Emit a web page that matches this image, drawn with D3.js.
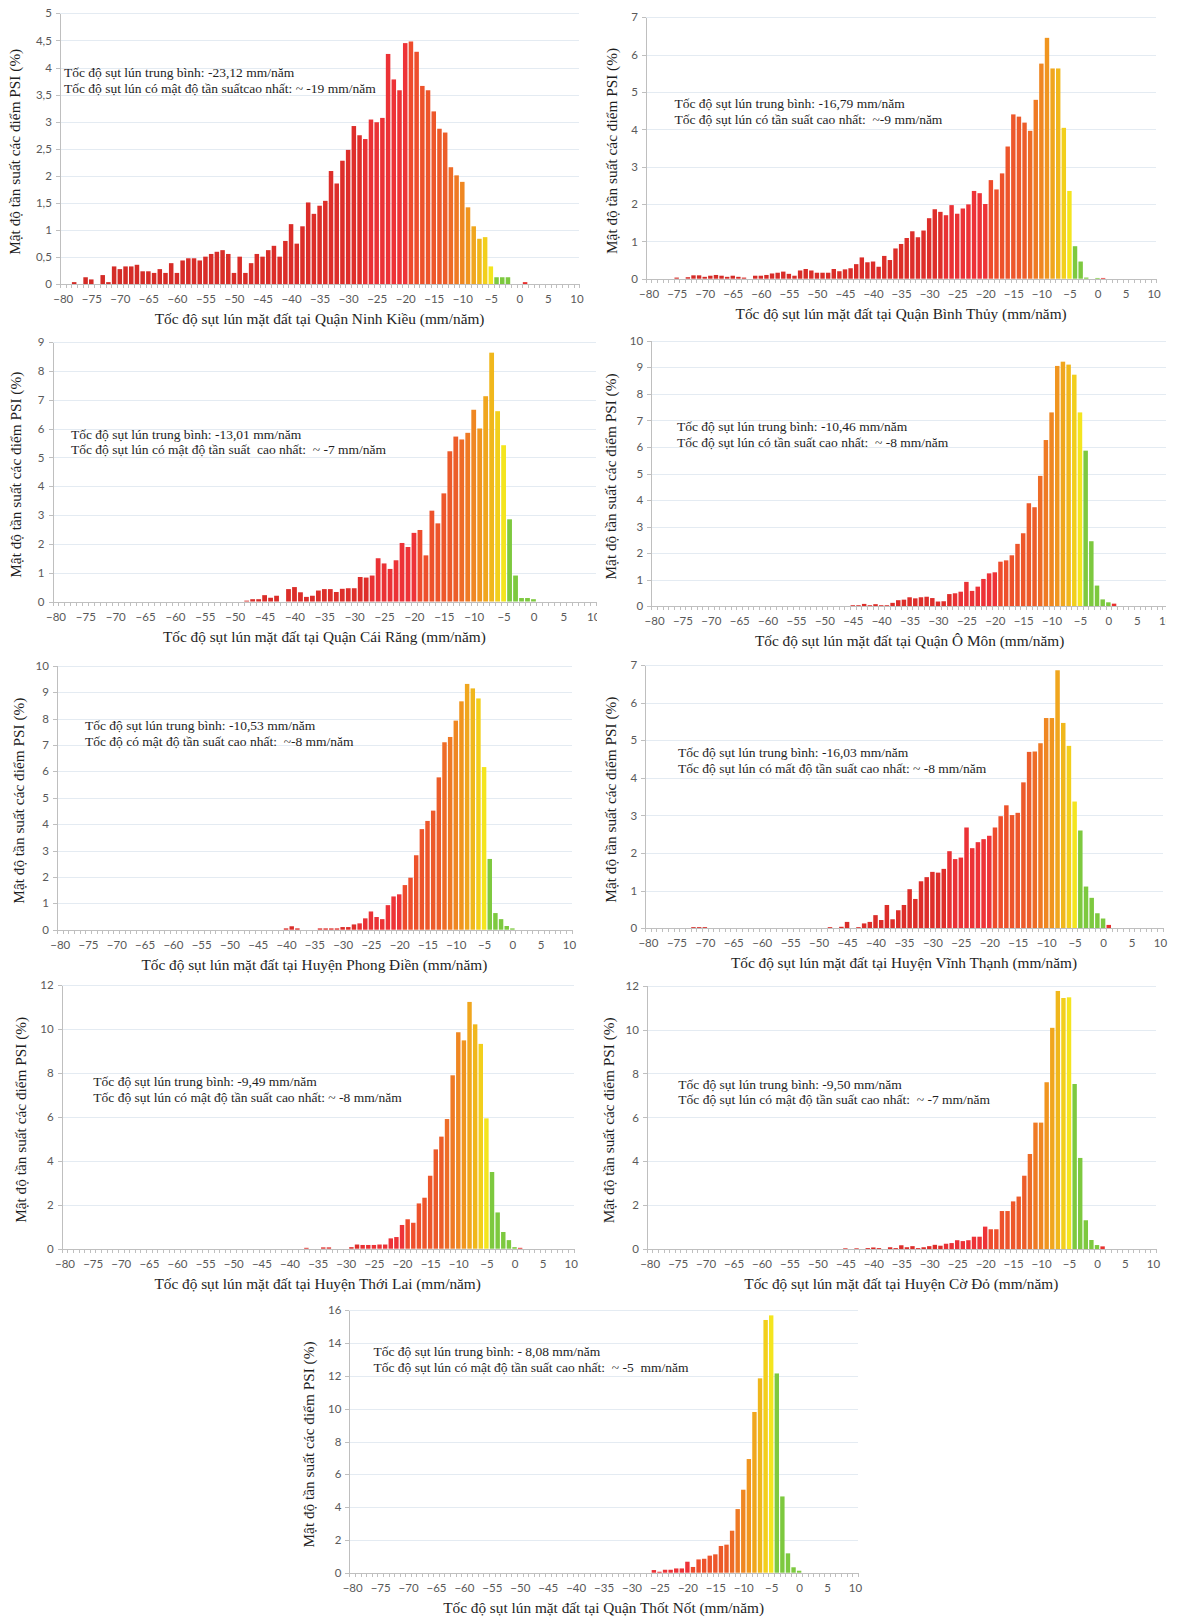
<!DOCTYPE html>
<html lang="vi">
<meta charset="UTF-8">
<style>
    body { margin:0; background:#fff; }
    .axis text { font-family: Lato, "Open Sans", sans-serif; font-size: 11.5px; fill:#595959; }
    .axis path, .axis line { stroke:#bfbfbf; shape-rendering: crispEdges; }
    .grid line { stroke:#e4ebf2; shape-rendering: crispEdges; }
    text.serif { font-family: "Liberation Serif", "Times New Roman", serif; fill:#1e1e1e; white-space: pre; }
</style>
<body>
<div id="chart"></div>
<script src="https://cdn.jsdelivr.net/npm/d3@7"></script>
<script>
    // categories: 1 mm/năm bins from -80 to 10
    var bins = d3.range(-80, 11);
    var xLabels = d3.range(-80, 11, 5);

    // series values (% of PSI points), each list starts at the given bin
    var ninhKieuFrom = -78;
    var ninhKieu = [0.04, 0, 0.13, 0.09, 0, 0.17, 0.04, 0.33, 0.28, 0.33, 0.33, 0.36, 0.24, 0.24, 0.21, 0.28, 0.21, 0.39, 0.21,
        0.44, 0.48, 0.48, 0.44, 0.51, 0.56, 0.60, 0.63, 0.56, 0.21, 0.51, 0.21, 0.39, 0.56, 0.51, 0.63, 0.71, 0.51, 0.80,
        1.11, 0.75, 1.07, 1.51, 1.30, 1.45, 1.54, 2.09, 1.86, 2.28, 2.48, 2.92, 2.75, 2.68, 3.04, 2.99, 3.07, 4.25, 3.78, 3.58,
        4.45, 4.48, 4.29, 3.66, 3.58, 3.19, 2.87, 2.80, 2.16, 2.01, 1.89, 1.42, 1.07, 0.84, 0.87, 0.33, 0.13, 0.13, 0.13, 0, 0, 0.04];

    var binhThuyFrom = -75;
    var binhThuy = [0.03, 0, 0.04, 0.09, 0.09, 0.05, 0.08, 0.1, 0.08, 0.05, 0.08, 0.05, 0.03, 0, 0.08, 0.08, 0.1, 0.14, 0.16, 0.19,
        0.13, 0.08, 0.22, 0.26, 0.22, 0.16, 0.16, 0.16, 0.26, 0.2, 0.25, 0.28, 0.39, 0.57, 0.44, 0.46, 0.32, 0.61, 0.5, 0.81,
        0.93, 1.09, 1.27, 1.11, 1.29, 1.62, 1.86, 1.79, 1.7, 1.97, 1.74, 1.88, 1.99, 2.35, 2.29, 2.0, 2.64, 2.39, 2.82, 3.54,
        4.4, 4.34, 4.18, 3.96, 4.79, 5.76, 6.45, 5.63, 5.63, 4.04, 2.35, 0.87, 0.46, 0.03, 0, 0.02, 0.02];

    var caiRangFrom = -48;
    var caiRang = [0.03, 0.08, 0.08, 0.22, 0.13, 0.2, 0, 0.43, 0.5, 0.32, 0.16, 0.2, 0.38, 0.43, 0.43, 0.33, 0.44, 0.46, 0.46,
        0.85, 0.83, 0.9, 1.5, 1.32, 1.13, 1.43, 2.03, 1.89, 2.38, 2.48, 1.6, 3.15, 2.71, 3.75, 5.21, 5.72, 5.62, 5.85, 6.65,
        6.0, 7.12, 8.63, 6.6, 5.42, 2.85, 0.9, 0.12, 0.12, 0.08];

    var oMonFrom = -45;
    var oMon = [0.04, 0.04, 0.09, 0.04, 0.08, 0.04, 0.04, 0.13, 0.23, 0.25, 0.34, 0.3, 0.34, 0.36, 0.31, 0.18, 0.19, 0.46, 0.49,
        0.55, 0.92, 0.58, 0.74, 1.03, 1.24, 1.28, 1.68, 1.73, 1.92, 2.35, 2.75, 3.88, 3.73, 4.91, 6.26, 7.3, 9.05, 9.21, 9.1,
        8.72, 7.3, 5.86, 2.45, 0.78, 0.26, 0.15, 0.1];

    var phongDienFrom = -40;
    var phongDien = [0.05, 0.13, 0.05, 0, 0, 0, 0.05, 0.05, 0.05, 0.05, 0.1, 0.1, 0.2, 0.24, 0.43, 0.69, 0.48, 0.4, 0.93, 1.26,
        1.34, 1.69, 1.97, 2.82, 3.81, 4.12, 4.51, 5.77, 7.1, 7.3, 7.92, 8.65, 9.31, 9.14, 8.76, 6.16, 2.68, 0.63, 0.4, 0.14, 0.05];

    var vinhThanhFrom = -72;
    var vinhThanh = [0.03, 0.03, 0.03, 0, 0, 0, 0, 0, 0, 0, 0, 0, 0, 0, 0, 0, 0, 0, 0, 0, 0, 0, 0, 0, 0.03, 0, 0.04, 0.17, 0,
        0.03, 0.13, 0.17, 0.35, 0.22, 0.62, 0.24, 0.48, 0.62, 1.04, 0.78, 1.25, 1.36, 1.5, 1.48, 1.58, 2.05, 1.84, 1.88, 2.68,
        2.13, 2.29, 2.37, 2.46, 2.68, 2.98, 3.27, 3.01, 3.07, 3.88, 4.69, 4.7, 4.92, 5.59, 5.59, 6.86, 5.46, 4.85, 3.37, 2.6,
        1.11, 0.81, 0.4, 0.26, 0.09];

    var thoiLaiFrom = -37;
    var thoiLai = [0.04, 0, 0, 0.06, 0.06, 0, 0, 0, 0.07, 0.19, 0.17, 0.17, 0.17, 0.19, 0.19, 0.47, 0.53, 1.08, 1.34, 1.18, 2.06,
        2.32, 3.32, 4.52, 5.1, 5.9, 7.89, 9.85, 9.48, 11.23, 10.21, 9.32, 5.93, 3.49, 1.65, 0.76, 0.39, 0.07, 0.04];

    var coDoFrom = -45;
    var coDo = [0.03, 0, 0.03, 0, 0.04, 0.07, 0.04, 0, 0.08, 0.04, 0.17, 0.08, 0.13, 0.04, 0.08, 0.13, 0.19, 0.15, 0.24, 0.27,
        0.4, 0.36, 0.4, 0.56, 0.56, 1.02, 0.9, 0.9, 1.73, 1.73, 2.17, 2.39, 3.34, 4.33, 5.76, 5.76, 7.6, 10.08, 11.76, 11.44,
        11.47, 7.52, 4.15, 1.31, 0.41, 0.18, 0.12];

    var thotNotFrom = -26;
    var thotNot = [0.16, 0.06, 0.18, 0.18, 0.26, 0.26, 0.67, 0.35, 0.81, 0.85, 1.04, 1.12, 1.63, 1.71, 2.56, 3.88, 5.06, 6.93,
        9.8, 11.85, 15.41, 15.69, 12.15, 4.65, 1.18, 0.33, 0.12];

    // y axis maximum and tick step for each chart
    var yMax = [5, 7, 9, 10, 10, 7, 12, 12, 16];
    var yStep = [0.5, 1, 1, 1, 1, 1, 2, 2, 2];

    var yTitle = "Mật độ tần suất các điểm PSI (%)";
    var xTitles = [
        "Tốc độ sụt lún mặt đất tại Quận Ninh Kiều (mm/năm)",
        "Tốc độ sụt lún mặt đất tại Quận Bình Thủy (mm/năm)",
        "Tốc độ sụt lún mặt đất tại Quận Cái Răng (mm/năm)",
        "Tốc độ sụt lún mặt đất tại Quận Ô Môn (mm/năm)",
        "Tốc độ sụt lún mặt đất tại Huyện Phong Điền (mm/năm)",
        "Tốc độ sụt lún mặt đất tại Huyện Vĩnh Thạnh (mm/năm)",
        "Tốc độ sụt lún mặt đất tại Huyện Thới Lai (mm/năm)",
        "Tốc độ sụt lún mặt đất tại Huyện Cờ Đỏ (mm/năm)",
        "Tốc độ sụt lún mặt đất tại Quận Thốt Nốt (mm/năm)"
    ];
    var notesMean = [
        "Tốc độ sụt lún trung bình: -23,12 mm/năm",
        "Tốc độ sụt lún trung bình: -16,79 mm/năm",
        "Tốc độ sụt lún trung bình: -13,01 mm/năm",
        "Tốc độ sụt lún trung bình: -10,46 mm/năm",
        "Tốc độ sụt lún trung bình: -10,53 mm/năm",
        "Tốc độ sụt lún trung bình: -16,03 mm/năm",
        "Tốc độ sụt lún trung bình: -9,49 mm/năm",
        "Tốc độ sụt lún trung bình: -9,50 mm/năm",
        "Tốc độ sụt lún trung bình: - 8,08 mm/năm"
    ];
    var notesMode = [
        "Tốc độ sụt lún có mật độ tần suấtcao nhất: ~ -19 mm/năm",
        "Tốc độ sụt lún có tần suất cao nhất:  ~-9 mm/năm",
        "Tốc độ sụt lún có mật độ tần suất  cao nhất:  ~ -7 mm/năm",
        "Tốc độ sụt lún có tần suất cao nhất:  ~ -8 mm/năm",
        "Tốc độ có mật độ tần suất cao nhất:  ~-8 mm/năm",
        "Tốc độ sụt lún có mất độ tần suất cao nhất: ~ -8 mm/năm",
        "Tốc độ sụt lún có mật độ tần suất cao nhất: ~ -8 mm/năm",
        "Tốc độ sụt lún có mật độ tần suất cao nhất:  ~ -7 mm/năm",
        "Tốc độ sụt lún có mật độ tần suất cao nhất:  ~ -5  mm/năm"
    ];

    var series = [
        [ninhKieuFrom, ninhKieu], [binhThuyFrom, binhThuy], [caiRangFrom, caiRang],
        [oMonFrom, oMon], [phongDienFrom, phongDien], [vinhThanhFrom, vinhThanh],
        [thoiLaiFrom, thoiLai], [coDoFrom, coDo], [thotNotFrom, thotNot]
    ];

    // where each panel sits on the page
    var layout = [
        {left:59.9,  right:579.3,  top:13.3,   base:284.3,  titleX:15,    noteX:64,    noteY:77},
        {left:645.8, right:1156.4, top:17.3,   base:278.7,  titleX:611.6, noteX:674.5, noteY:108},
        {left:52.5,  right:596.2,  top:342,    base:601.5,  titleX:15.5,  noteX:71,    noteY:438.5, clip:[0, 597]},
        {left:651.2, right:1168,   top:340.7,  base:606.3,  titleX:611,   noteX:677,   noteY:431,   clip:[597, 1166]},
        {left:56.9,  right:571.8,  top:665.7,  base:929.7,  titleX:19.4,  noteX:85,    noteY:730},
        {left:645.1, right:1162.8, top:665,    base:928.3,  titleX:611,   noteX:678,   noteY:757},
        {left:61.7,  right:573.6,  top:985,    base:1248.7, titleX:20.5,  noteX:93.3,  noteY:1086},
        {left:646.9, right:1155.7, top:985.7,  base:1249,   titleX:609,   noteX:678.3, noteY:1088.5},
        {left:349.4, right:857.8,  top:1310.3, base:1572.7, titleX:309,   noteX:373.4, noteY:1356}
    ];

    var width = 1177, height = 1617;

    var svg = d3.select("#chart").append("svg")
        .attr("width", width)
        .attr("height", height);

    // bar colour depends on the bin: red -> orange -> yellow, green near zero
    var ramp = d3.scaleLinear()
        .domain([-80, -28, -27, -20, -19, -13, -12, -9, -7, -6, -5])
        .range(["#d22b26", "#de2e2a", "#e93134", "#ee3338", "#ee4c2c", "#ec5d2a", "#ee6c27", "#f0951f", "#f0b71c", "#f2cf1c", "#f4e51f"])
        .clamp(true);
    function barColor(b) {
        if (b > 0) return "#e8312f";
        if (b >= -4) return "#7dc93f";
        return ramp(b);
    }

    var fmt = function(d){ return String(d).replace(".", ","); };

    series.forEach(function(s, i) {
        var L = layout[i];
        var data = s[1].map(function(v, k){ return {bin: s[0] + k, value: v}; })
            .filter(function(d){ return d.value > 0; });

        var g = svg.append("g").attr("class", "panel");
        if (L.clip) {
            svg.append("clipPath").attr("id", "clip" + i)
                .append("rect")
                .attr("x", L.clip[0]).attr("y", L.top - 20)
                .attr("width", L.clip[1] - L.clip[0]).attr("height", L.base - L.top + 70);
            g.attr("clip-path", "url(#clip" + i + ")");
        }

        var x = d3.scaleLinear().domain([-80.5, 10.5]).range([L.left, L.right]);
        var y = d3.scaleLinear().domain([0, yMax[i]]).range([L.base, L.top]);
        var yTicks = d3.range(0, yMax[i] + yStep[i] / 2, yStep[i]).map(function(d){ return +d.toFixed(2); });

        // gridlines
        g.append("g").attr("class", "grid")
            .selectAll("line")
            .data(yTicks.slice(1))
            .enter().append("line")
            .attr("x1", L.left).attr("x2", L.right)
            .attr("y1", function(d){ return Math.round(y(d)) + 0.5; })
            .attr("y2", function(d){ return Math.round(y(d)) + 0.5; });

        // bars
        var step = x(1) - x(0);
        g.append("g")
            .selectAll("rect")
            .data(data)
            .enter().append("rect")
            .attr("x", function(d){ return x(d.bin - 0.5) + 0.6; })
            .attr("width", step - 1.2)
            .attr("y", function(d){ return y(d.value); })
            .attr("height", function(d){ return y(0) - y(d.value); })
            .attr("fill", function(d){ return barColor(d.bin); });

        // x axis: minor ticks at bin edges, labels every 5
        g.append("g").attr("class", "axis")
            .attr("transform", "translate(0," + L.base + ")")
            .call(d3.axisBottom(x).tickValues(d3.range(-80.5, 11, 1)).tickSize(4).tickSizeOuter(0).tickFormat(""));
        g.append("g").attr("class", "axis")
            .attr("transform", "translate(0," + L.base + ")")
            .call(d3.axisBottom(x).tickValues(xLabels).tickSize(0).tickPadding(11))
            .select(".domain").remove();

        // y axis
        g.append("g").attr("class", "axis")
            .attr("transform", "translate(" + L.left + ",0)")
            .call(d3.axisLeft(y).tickValues(yTicks).tickSize(4).tickSizeOuter(0).tickPadding(4).tickFormat(fmt));

        // titles
        g.append("text").attr("class", "serif")
            .attr("x", (L.left + L.right) / 2)
            .attr("y", L.base + 40)
            .attr("text-anchor", "middle")
            .style("font-size", "15.3px")
            .text(xTitles[i]);

        g.append("text").attr("class", "serif")
            .attr("transform", "translate(" + (L.titleX + 5) + "," + ((L.top + L.base) / 2 + 3) + ") rotate(-90)")
            .attr("text-anchor", "middle")
            .style("font-size", "15.3px")
            .text(yTitle);

        // notes
        g.append("text").attr("class", "serif")
            .attr("x", L.noteX).attr("y", L.noteY)
            .style("font-size", "13.5px")
            .text(notesMean[i]);
        g.append("text").attr("class", "serif")
            .attr("x", L.noteX).attr("y", L.noteY + 15.8)
            .style("font-size", "13.5px")
            .text(notesMode[i]);
    });
</script>
</body>
</html>
